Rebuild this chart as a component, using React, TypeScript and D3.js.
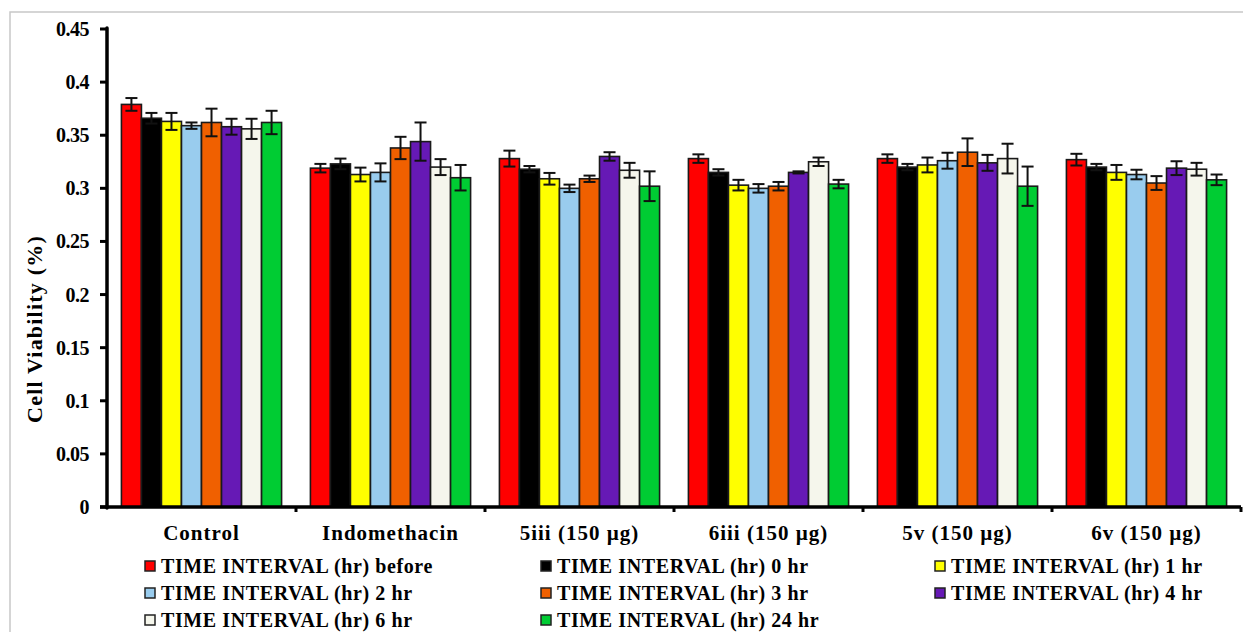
import React from "react";
import * as d3 from "d3";

const categories = ["Control", "Indomethacin", "5iii (150 µg)", "6iii (150 µg)", "5v (150 µg)", "6v (150 µg)"];
const seriesNames = [
  "TIME INTERVAL (hr) before",
  "TIME INTERVAL (hr) 0 hr",
  "TIME INTERVAL (hr) 1 hr",
  "TIME INTERVAL (hr) 2 hr",
  "TIME INTERVAL (hr) 3 hr",
  "TIME INTERVAL (hr) 4 hr",
  "TIME INTERVAL (hr) 6 hr",
  "TIME INTERVAL (hr) 24 hr",
];
const colors = ["#ff0000", "#000000", "#ffff00", "#99ccee", "#f06000", "#6619b5", "#f5f6ec", "#00cc33"];

// mean values, one array per time interval
const before = [0.379, 0.319, 0.328, 0.328, 0.328, 0.327];
const hr0 = [0.366, 0.323, 0.318, 0.315, 0.32, 0.32];
const hr1 = [0.363, 0.313, 0.309, 0.303, 0.322, 0.315];
const hr2 = [0.359, 0.315, 0.3, 0.3, 0.326, 0.313];
const hr3 = [0.362, 0.338, 0.309, 0.302, 0.334, 0.305];
const hr4 = [0.358, 0.344, 0.33, 0.315, 0.324, 0.319];
const hr6 = [0.356, 0.32, 0.317, 0.325, 0.328, 0.318];
const hr24 = [0.362, 0.31, 0.302, 0.304, 0.302, 0.308];

// error bars (+/-)
const errBefore = [0.006, 0.004, 0.0075, 0.004, 0.004, 0.0055];
const err0 = [0.005, 0.005, 0.003, 0.003, 0.003, 0.003];
const err1 = [0.008, 0.0065, 0.0055, 0.005, 0.007, 0.007];
const err2 = [0.003, 0.0085, 0.0035, 0.004, 0.0075, 0.0045];
const err3 = [0.013, 0.0105, 0.003, 0.004, 0.013, 0.0065];
const err4 = [0.0075, 0.018, 0.004, 0.001, 0.0075, 0.0065];
const err6 = [0.0095, 0.0075, 0.007, 0.004, 0.014, 0.006];
const err24 = [0.011, 0.012, 0.014, 0.004, 0.0185, 0.005];

const yTicks = [0, 0.05, 0.1, 0.15, 0.2, 0.25, 0.3, 0.35, 0.4, 0.45];

const values = [before, hr0, hr1, hr2, hr3, hr4, hr6, hr24];
const errors = [errBefore, err0, err1, err2, err3, err4, err6, err24];

const font = "'Liberation Serif', 'Times New Roman', serif";

export default function App() {
  const W = 1243;
  const H = 632;
  const left = 107;
  const right = 1241;
  const top = 29;
  const bottom = 507;

  const x0 = d3.scaleBand().domain(categories).range([left, right]).padding(0);
  const x1 = d3
    .scaleBand()
    .domain(seriesNames)
    .range([0, x0.bandwidth()])
    .paddingInner(0)
    .paddingOuter(0.72);
  const y = d3.scaleLinear().domain([0, 0.45]).range([bottom, top]);

  const legendCols = [145, 541, 935];
  const legendRows = [566, 593, 620];

  return (
    <svg width={W} height={H} style={{ position: "absolute", left: 0, top: 0 }} fontFamily={font}>
      <rect x={10} y={12} width={1240} height={640} fill="#fff" stroke="#c8c8c8" strokeWidth={1.5} />

      {/* bars */}
      {categories.map((c, ci) => (
        <g key={c} transform={`translate(${x0(c)},0)`}>
          {seriesNames.map((s, si) => {
            const v = values[si][ci];
            const e = errors[si][ci];
            const bx = x1(s)!;
            const bw = x1.bandwidth();
            const cx = bx + bw / 2;
            return (
              <g key={s}>
                <rect x={bx} y={y(v)} width={bw} height={bottom - y(v)} fill={colors[si]} stroke="#1a1a1a" strokeWidth={1.6} />
                <g stroke="#111" strokeWidth={2}>
                  <line x1={cx} x2={cx} y1={y(v + e)} y2={y(v - e)} />
                  <line x1={cx - 6} x2={cx + 6} y1={y(v + e)} y2={y(v + e)} />
                  <line x1={cx - 6} x2={cx + 6} y1={y(v - e)} y2={y(v - e)} />
                </g>
              </g>
            );
          })}
        </g>
      ))}

      {/* y axis */}
      <line x1={left} x2={left} y1={top - 1} y2={bottom + 1} stroke="#000" strokeWidth={3.5} strokeLinecap="round" />
      {yTicks.map((t) => (
        <g key={t}>
          <line x1={left - 7} x2={left} y1={y(t)} y2={y(t)} stroke="#000" strokeWidth={3} />
          <text x={89} y={y(t)} dy="0.35em" textAnchor="end" fontSize={20} fontWeight="bold" letterSpacing={-0.5}>
            {d3.format("")(t)}
          </text>
        </g>
      ))}

      {/* x axis */}
      <line x1={left - 7} x2={right} y1={bottom} y2={bottom} stroke="#000" strokeWidth={3.5} />
      {categories.map((c) => (
        <line key={c} x1={x0(c)! + x0.bandwidth()} x2={x0(c)! + x0.bandwidth()} y1={bottom} y2={bottom + 5} stroke="#000" strokeWidth={3} />
      ))}
      {categories.map((c) => (
        <text key={c} x={x0(c)! + x0.bandwidth() / 2} y={540} textAnchor="middle" fontSize={21} fontWeight="bold" letterSpacing={1}>
          {c}
        </text>
      ))}

      {/* y title */}
      <text
        transform={`translate(42,${(top + bottom) / 2 + 61}) rotate(-90)`}
        textAnchor="middle"
        fontSize={22}
        fontWeight="bold"
        letterSpacing={1.2}
      >
        Cell Viability (%)
      </text>

      {/* legend */}
      {seriesNames.map((s, i) => {
        const col = i % 3;
        const row = Math.floor(i / 3);
        const lx = legendCols[col];
        const ly = legendRows[row];
        return (
          <g key={s}>
            <rect x={lx} y={ly - 5} width={10} height={10} fill={colors[i]} stroke="#222" strokeWidth={1.5} />
            <text x={lx + 16} y={ly} dy="0.35em" fontSize={20} fontWeight="bold" letterSpacing={0.6}>
              {s}
            </text>
          </g>
        );
      })}
    </svg>
  );
}
